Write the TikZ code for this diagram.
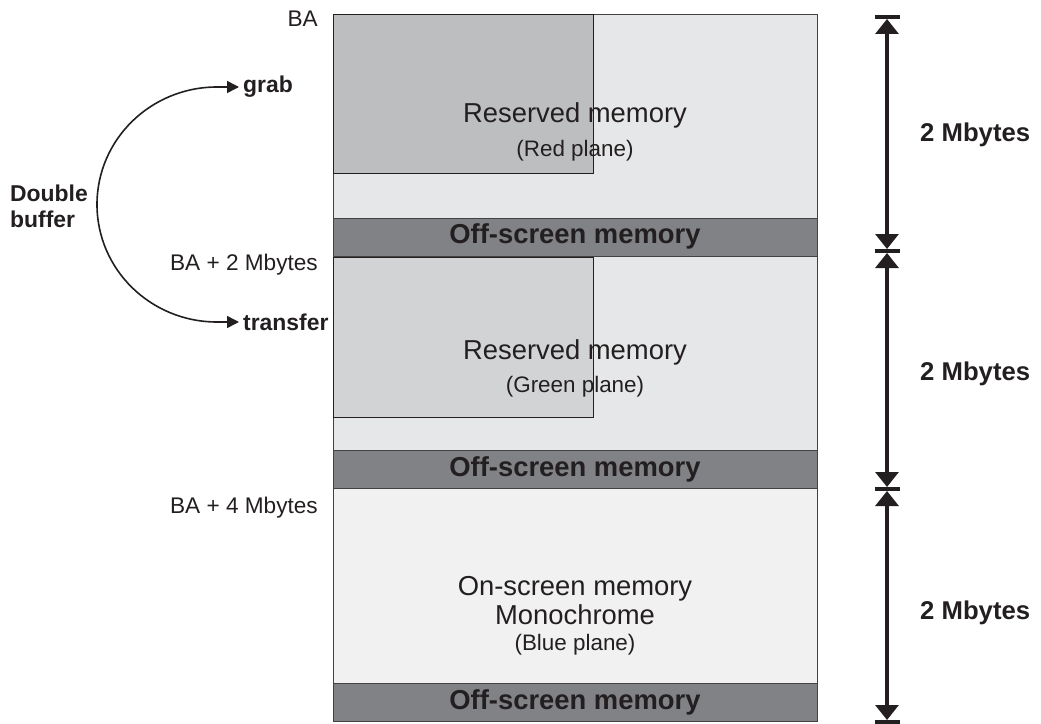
\documentclass[tikz,border=0pt]{standalone}
\usepackage{fontspec}
\setmainfont{Liberation Sans}
\usetikzlibrary{arrows.meta}
\definecolor{txt}{HTML}{231F20}
\definecolor{lightfill}{HTML}{E6E7E8}
\definecolor{redfill}{HTML}{BCBEC0}
\definecolor{greenfill}{HTML}{D1D3D4}
\definecolor{offfill}{HTML}{808285}
\definecolor{bluefill}{HTML}{F1F1F1}
\tikzset{
  blockbox/.style={draw=txt!85, line width=1bp},
  bigtext/.style={font=\fontsize{27.5}{30}\selectfont, text=txt, inner sep=0pt, anchor=base},
  smalltext/.style={font=\fontsize{22.5}{25}\selectfont, text=txt, inner sep=0pt, anchor=base},
  offtext/.style={font=\bfseries\fontsize{27.5}{30}\selectfont, text=txt, inner sep=0pt, anchor=base},
  addrtext/.style={font=\fontsize{22.7}{25}\selectfont, text=txt, inner sep=0pt, anchor=base east},
  sidetext/.style={font=\bfseries\fontsize{23}{25}\selectfont, text=txt, inner sep=0pt},
  sizetext/.style={font=\bfseries\fontsize{25.8}{28}\selectfont, text=txt, inner sep=0pt, anchor=base west},
  bufarrow/.style={draw=txt, line width=1.6bp, {Triangle[length=12bp,width=12bp]}-{Triangle[length=12bp,width=12bp]}},
  dimline/.style={draw=txt, line width=3.2bp, {Triangle[length=15bp,width=23bp]}-{Triangle[length=15bp,width=23bp]}, shorten <=2bp, shorten >=2bp},
  dimbar/.style={draw=txt, line width=3.8bp},
}
\begin{document}
\begin{tikzpicture}[x=1bp,y=-1bp]
\useasboundingbox (0,0) rectangle (1041,724);

% Red plane block
\path[fill=lightfill, blockbox] (333,15) rectangle (817,218);
\path[fill=redfill, draw=txt, line width=1bp] (333,15) rectangle (593,174);
\path[fill=offfill, blockbox] (333,218) rectangle (817,256);
\node[bigtext] (res1) at (575,122.7) {Reserved memory};
\node[smalltext] (red) at (575,157) {(Red plane)};
\node[offtext] (off1) at (575,243) {Off-screen memory};

% Green plane block
\path[fill=lightfill, blockbox] (333,256) rectangle (817,450);
\path[fill=greenfill, draw=txt, line width=1bp] (333,257) rectangle (593,417);
\path[fill=offfill, blockbox] (333,450) rectangle (817,488);
\node[bigtext] (res2) at (575,359) {Reserved memory};
\node[smalltext] (green) at (575,392) {(Green plane)};
\node[offtext] (off2) at (575,476) {Off-screen memory};

% Blue plane block
\path[fill=bluefill, blockbox] (333,488) rectangle (817,683);
\path[fill=offfill, blockbox] (333,683) rectangle (817,721);
\node[bigtext] (on) at (575,595) {On-screen memory};
\node[bigtext] (mono) at (575,624) {Monochrome};
\node[smalltext] (blue) at (575,650) {(Blue plane)};
\node[offtext] (off3) at (575,709) {Off-screen memory};

% Address labels
\node[addrtext] (ba0) at (318,27) {BA};
\node[addrtext] (ba2) at (318,270) {BA + 2 Mbytes};
\node[addrtext] (ba4) at (318,513) {BA + 4 Mbytes};

% Double buffer
\node[sidetext, anchor=base west] (db1) at (10,202) {Double};
\node[sidetext, anchor=base west] (db2) at (10,227) {buffer};
\node[sidetext, anchor=west] (grab) at (243,87) {grab};
\node[sidetext, anchor=west] (transfer) at (243,322) {transfer};
\draw[bufarrow] ([xshift=-4bp]grab.west) -- (217,87)
  .. controls (150.7,87) and (97,139.5) .. (97,204.5)
  .. controls (97,269.5) and (150.7,322) .. (217,322)
  -- ([xshift=-4bp]transfer.west);

% Dimension arrows
\coordinate (b0) at (887,17);
\coordinate (b1) at (887,251);
\coordinate (b2) at (887,489);
\coordinate (b3) at (887,722);
\foreach \b in {b0,b1,b2,b3}
  \draw[dimbar] ([xshift=-12.5bp]\b) -- ([xshift=12.5bp]\b);
\draw[dimline] (b0) -- (b1);
\draw[dimline] (b1) -- (b2);
\draw[dimline] (b2) -- (b3);
\node[sizetext] (m1) at (920,141.5) {2 Mbytes};
\node[sizetext] (m2) at (920,380.5) {2 Mbytes};
\node[sizetext] (m3) at (920,619.5) {2 Mbytes};
\end{tikzpicture}
\end{document}
